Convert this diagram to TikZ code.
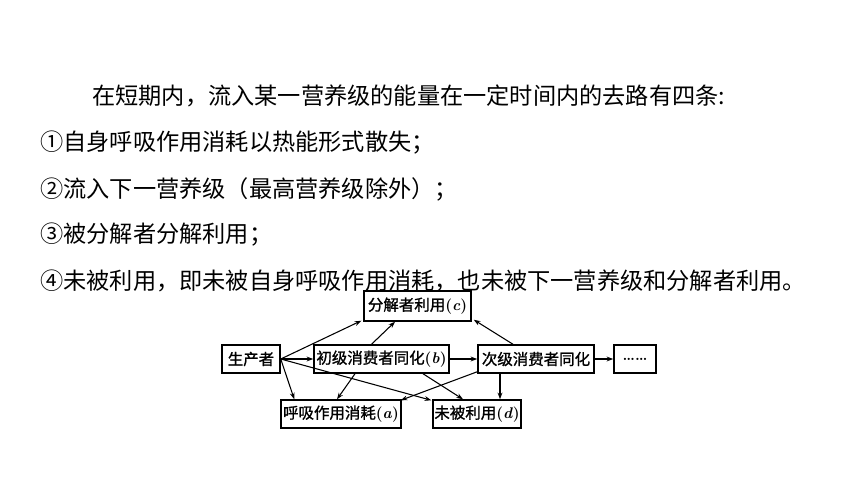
\documentclass[tikz,border=0pt]{standalone}
\usepackage{fontspec}
\newfontfamily\cjk{Noto Sans CJK SC}
\newfontfamily\cjkb[FakeBold=1.2]{Noto Sans CJK SC}
\usetikzlibrary{arrows.meta,calc}
\newcommand{\lt}[1]{{\rmfamily\bfseries(\textit{#1})}}
\begin{document}
\begin{tikzpicture}[x=0.75pt,y=-0.75pt,
  txt/.style={anchor=west,inner sep=0pt,font=\cjk\fontsize{17.4pt}{20pt}\selectfont},
  box/.style={draw,line width=1.1pt,inner sep=0pt,minimum height=21pt,font=\cjkb\fontsize{11.6pt}{14pt}\selectfont},
  arr/.style={line width=0.8pt,-{Stealth[length=5pt,width=3.6pt]}}]
\useasboundingbox[fill=white] (0,0) rectangle (860,486);
% paragraph text
\node[txt] (t1) at (92,96) {在短期内，流入某一营养级的能量在一定时间内的去路有四条:};
\node[txt] (t2) at (40,143) {①自身呼吸作用消耗以热能形式散失；};
\node[txt] (t3) at (40,189) {②流入下一营养级（最高营养级除外）；};
\node[txt] (t4) at (40,235) {③被分解者分解利用；};
\node[txt] (t5) at (40,281) {④未被利用，即未被自身呼吸作用消耗，也未被下一营养级和分解者利用。};
% diagram boxes
\node[box,minimum width=43.5pt] (P) at (251,359) {生产者};
\node[box,minimum width=101.25pt] (B) at (381.5,359) {初级消费者同化\lt{b}};
\node[box,minimum width=87pt] (S) at (536,359) {次级消费者同化};
\node[box,minimum width=31.5pt] (D) at (635,359) {\rmfamily\bfseries ……};
\node[box,minimum width=80.25pt,minimum height=22.5pt] (C) at (417.5,306) {分解者利用\lt{c}};
\node[box,minimum width=90pt] (A) at (341,414) {呼吸作用消耗\lt{a}};
\node[box,minimum width=66pt] (U) at (477,414) {未被利用\lt{d}};
% connectors
\draw[arr] (P.east) -- (B.west);
\draw[arr] (B.east) -- (S.west);
\draw[arr] (S.east) -- (D.west);
\draw[arr] (P.east) -- ($(C.south west)+(-2,-1)$);
\draw[arr] ($(B.north)+(-10,0)$) -- ($(C.south)+(-22.5,0)$);
\draw[arr] (P.east) -- ($(A.north west)+(14,0)$);
\draw[arr] (P.east) -- ($(U.north west)+(-1,1)$);
\draw[arr] ($(B.south)+(-26.5,0)$) -- ($(A.north)+(-4,0)$);
\draw[arr] ($(B.south)+(41.5,0)$) -- ($(U.north)+(-14,0)$);
\draw[arr] ($(S.south west)+(0,-2)$) -- ($(A.north east)+(-1,1)$);
\draw[arr] ($(S.south)+(-36,0)$) -- ($(U.north)+(23,0)$);
\draw[arr] ($(S.north)+(-23,0)$) -- ($(C.south east)+(2,-2)$);
\end{tikzpicture}
\end{document}
